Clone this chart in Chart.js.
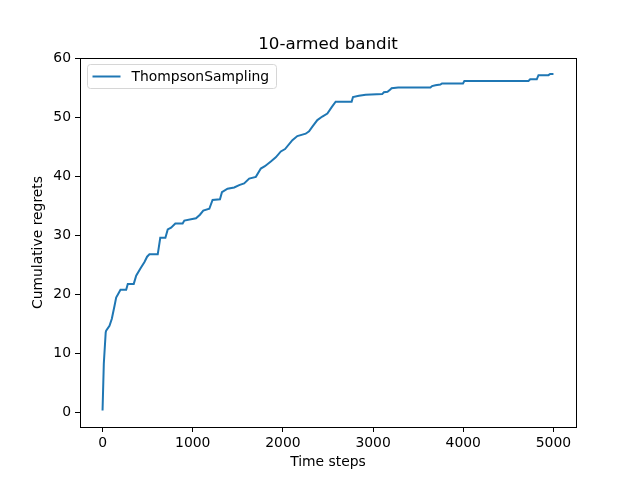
<!DOCTYPE html>
<html>
<head>
<meta charset="utf-8">
<script src="https://cdn.jsdelivr.net/npm/chart.js@4.4.1/dist/chart.umd.min.js"></script>
<style>
  html, body { margin: 0; padding: 0; background: #fff; }
  #wrap { width: 640px; height: 480px; }
</style>
</head>
<body>
<div id="wrap"><canvas id="c" width="640" height="480"></canvas></div>
<script>
const chartTitle = "10-armed bandit";
const xLabel = "Time steps";
const yLabel = "Cumulative regrets";
const seriesName = "ThompsonSampling";
const xTicks = [0, 1000, 2000, 3000, 4000, 5000];
const yTicks = [0, 10, 20, 30, 40, 50, 60];
const timeSteps = [0, 14, 35, 40, 77, 103, 133, 151, 170, 199, 262, 280, 346, 373, 420, 465, 494, 520, 612, 640, 697, 723, 760, 807, 888, 907, 1036, 1080, 1117, 1184, 1220, 1302, 1324, 1386, 1460, 1515, 1570, 1626, 1700, 1755, 1800, 1866, 1921, 1977, 2024, 2105, 2160, 2253, 2290, 2327, 2382, 2437, 2493, 2541, 2585, 2762, 2777, 2843, 2917, 3101, 3120, 3160, 3194, 3205, 3278, 3636, 3654, 3691, 3746, 3764, 3997, 4012, 4723, 4742, 4815, 4834, 4945, 4963, 5000];
const regrets = [0.4, 8.3, 13.6, 13.9, 14.7, 15.9, 18.1, 19.5, 20.0, 20.8, 20.8, 21.8, 21.8, 23.2, 24.4, 25.5, 26.4, 26.8, 26.8, 29.6, 29.6, 31.0, 31.3, 32.0, 32.0, 32.5, 32.9, 33.5, 34.2, 34.5, 36.0, 36.1, 37.3, 37.9, 38.1, 38.5, 38.8, 39.6, 39.9, 41.3, 41.7, 42.5, 43.2, 44.2, 44.6, 46.1, 46.8, 47.2, 47.6, 48.4, 49.5, 50.1, 50.6, 51.7, 52.6, 52.6, 53.4, 53.6, 53.8, 53.9, 54.2, 54.3, 54.7, 54.9, 55.0, 55.0, 55.25, 55.4, 55.5, 55.7, 55.7, 56.1, 56.1, 56.4, 56.4, 57.1, 57.1, 57.3, 57.3];

const FONT = "'DejaVu Sans', sans-serif";
const BLUE = '#1f77b4';

const framePlugin = {
  id: 'frame',
  afterDatasetsDraw(chart) {
    const {ctx, chartArea: a} = chart;
    ctx.save();
    ctx.strokeStyle = '#000';
    ctx.lineWidth = 1;
    ctx.strokeRect(Math.round(a.left) + 0.5, Math.round(a.top) + 0.5, Math.round(a.right - a.left), Math.round(a.bottom - a.top));
    ctx.fillStyle = '#000';
    ctx.font = '16.7px ' + FONT;
    ctx.textAlign = 'center';
    ctx.textBaseline = 'alphabetic';
    ctx.fillText(chartTitle, (a.left + a.right) / 2, a.top - 9);
    ctx.restore();
  }
};

const legendPlugin = {
  id: 'mplLegend',
  afterDraw(chart) {
    const {ctx, chartArea: a} = chart;
    const ds = chart.data.datasets[0];
    const x0 = a.left + 7.5, y0 = a.top + 6.5, w = 189, h = 24, r = 3;
    ctx.save();
    ctx.beginPath();
    ctx.moveTo(x0 + r, y0);
    ctx.lineTo(x0 + w - r, y0);
    ctx.arcTo(x0 + w, y0, x0 + w, y0 + r, r);
    ctx.lineTo(x0 + w, y0 + h - r);
    ctx.arcTo(x0 + w, y0 + h, x0 + w - r, y0 + h, r);
    ctx.lineTo(x0 + r, y0 + h);
    ctx.arcTo(x0, y0 + h, x0, y0 + h - r, r);
    ctx.lineTo(x0, y0 + r);
    ctx.arcTo(x0, y0, x0 + r, y0, r);
    ctx.closePath();
    ctx.fillStyle = 'rgba(255,255,255,0.8)';
    ctx.fill();
    ctx.strokeStyle = '#d6d6d6';
    ctx.lineWidth = 1;
    ctx.stroke();
    const cy = y0 + h / 2;
    ctx.beginPath();
    ctx.moveTo(x0 + 5, cy);
    ctx.lineTo(x0 + 33, cy);
    ctx.strokeStyle = ds.borderColor;
    ctx.lineWidth = 2;
    ctx.stroke();
    ctx.fillStyle = '#000';
    ctx.font = '13.9px ' + FONT;
    ctx.textBaseline = 'middle';
    ctx.textAlign = 'left';
    ctx.fillText(ds.label, x0 + 44, cy + 0.5);
    ctx.restore();
  }
};

new Chart(document.getElementById('c'), {
  type: 'line',
  data: {
    datasets: [{
      label: seriesName,
      data: timeSteps.map((t, i) => ({x: t, y: regrets[i]})),
      borderColor: BLUE,
      borderWidth: 2,
      pointRadius: 0,
      tension: 0,
      fill: false
    }]
  },
  options: {
    responsive: false,
    animation: false,
    layout: { padding: { left: 0, right: 64, top: 58, bottom: 0 } },
    plugins: {
      legend: { display: false },
      tooltip: { enabled: false },
      title: { display: false }
    },
    scales: {
      x: {
        type: 'linear',
        min: -250,
        max: 5250,
        afterBuildTicks(s) { s.ticks = xTicks.map(v => ({value: v})); },
        afterFit(s) { s.height = 53; },
        ticks: { color: '#000', font: { family: FONT, size: 13.9 }, padding: 3, maxRotation: 0, autoSkip: false, callback: v => String(v) },
        grid: { drawOnChartArea: false, drawTicks: true, tickLength: 5, color: '#000', lineWidth: 1 },
        border: { display: true, color: '#000', width: 1 },
        title: { display: true, text: xLabel, color: '#000', font: { family: FONT, size: 13.9 }, padding: { top: 0, bottom: 9.5 } }
      },
      y: {
        type: 'linear',
        min: -2.4,
        max: 60.0,
        afterBuildTicks(s) { s.ticks = yTicks.map(v => ({value: v})); },
        afterFit(s) { s.width = 80; },
        ticks: { color: '#000', font: { family: FONT, size: 13.9 }, padding: 4, autoSkip: false, callback: v => String(v) },
        grid: { drawOnChartArea: false, drawTicks: true, tickLength: 5, color: '#000', lineWidth: 1 },
        border: { display: true, color: '#000', width: 1 },
        title: { display: true, text: yLabel, color: '#000', font: { family: FONT, size: 13.9 }, padding: { top: 30.5, bottom: 0 } }
      }
    }
  },
  plugins: [framePlugin, legendPlugin]
});
</script>
</body>
</html>
